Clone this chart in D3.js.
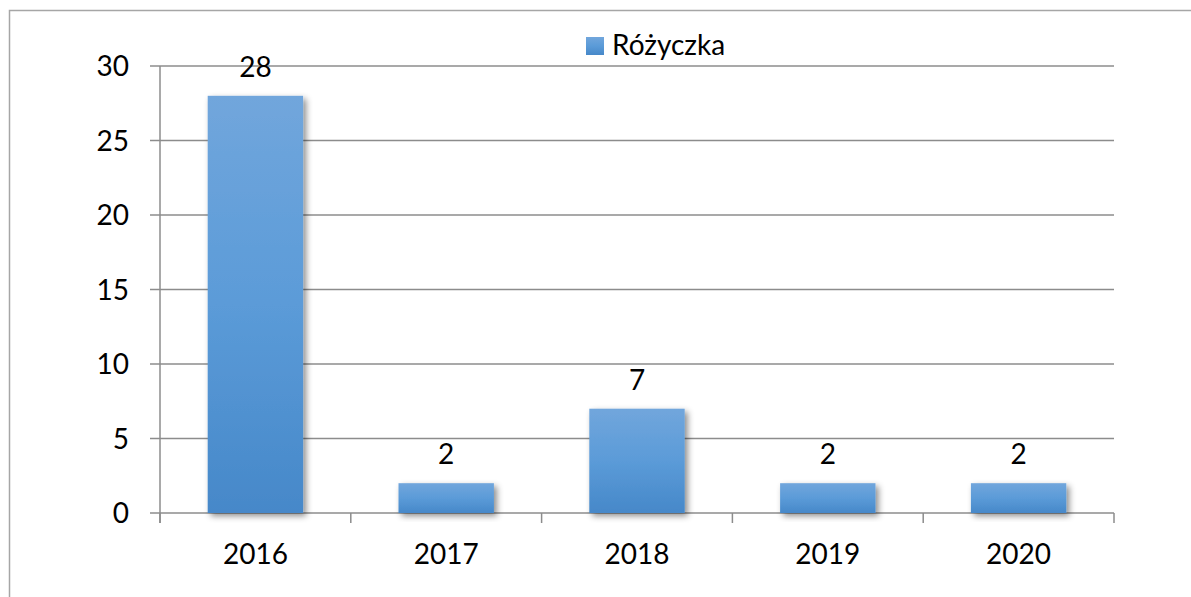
<!DOCTYPE html>
<html>
<head>
<meta charset="utf-8">
<script src="https://cdn.jsdelivr.net/npm/d3@7"></script>
<style>
  body { margin: 0; background: #fff; }
  text { font-family: Lato, "Open Sans", sans-serif; fill: #000; }
</style>
</head>
<body>
<div id="chart"></div>
<script>
// data
const years = ["2016", "2017", "2018", "2019", "2020"];
const values = [28, 2, 7, 2, 2];
const seriesName = "Różyczka";
const yTicks = [0, 5, 10, 15, 20, 25, 30];

const width = 1191, height = 597;
const plot = { left: 160, right: 1114, top: 66, bottom: 513 };
const fontSize = 28;

const svg = d3.select("#chart").append("svg")
    .attr("width", width)
    .attr("height", height);

const defs = svg.append("defs");
const grad = defs.append("linearGradient")
    .attr("id", "barGrad")
    .attr("x1", 0).attr("y1", 0).attr("x2", 0).attr("y2", 1);
grad.append("stop").attr("offset", "0%").attr("stop-color", "#71a6dc");
grad.append("stop").attr("offset", "50%").attr("stop-color", "#5b9bd8");
grad.append("stop").attr("offset", "100%").attr("stop-color", "#4688c9");

const shadow = defs.append("filter")
    .attr("id", "shadow")
    .attr("x", "-20%").attr("y", "-20%")
    .attr("width", "150%").attr("height", "150%");
shadow.append("feDropShadow")
    .attr("dx", 3).attr("dy", 3)
    .attr("stdDeviation", 3)
    .attr("flood-color", "#000")
    .attr("flood-opacity", 0.45);

// outer frame (top and left edges visible)
svg.append("path")
    .attr("d", `M9.5,${height} L9.5,10.5 L${width},10.5`)
    .attr("fill", "none")
    .attr("stroke", "#a6a6a6")
    .attr("stroke-width", 1.5);

const x = d3.scaleBand()
    .domain(years)
    .range([plot.left, plot.right])
    .paddingInner(0.5)
    .paddingOuter(0.25);

const y = d3.scaleLinear()
    .domain([0, 30])
    .range([plot.bottom, plot.top]);

// gridlines
svg.append("g")
    .selectAll("line")
    .data(yTicks)
    .enter().append("line")
    .attr("x1", plot.left - 10)
    .attr("x2", plot.right)
    .attr("y1", d => y(d))
    .attr("y2", d => y(d))
    .attr("stroke", "#8c8c8c")
    .attr("stroke-width", 1.5);

// y axis line
svg.append("line")
    .attr("x1", plot.left).attr("x2", plot.left)
    .attr("y1", plot.top).attr("y2", plot.bottom + 10)
    .attr("stroke", "#8c8c8c")
    .attr("stroke-width", 1.5);

// x category ticks
const step = x.step();
const tickXs = d3.range(years.length + 1).map(i => plot.left + i * (plot.right - plot.left) / years.length);
svg.append("g")
    .selectAll("line")
    .data(tickXs)
    .enter().append("line")
    .attr("x1", d => d).attr("x2", d => d)
    .attr("y1", plot.bottom).attr("y2", plot.bottom + 10)
    .attr("stroke", "#8c8c8c")
    .attr("stroke-width", 1.5);

// y labels
svg.append("g")
    .selectAll("text")
    .data(yTicks)
    .enter().append("text")
    .attr("x", 129)
    .attr("y", d => y(d) + 10)
    .attr("text-anchor", "end")
    .attr("font-size", fontSize)
    .text(d => d);

// bars
svg.append("g")
    .selectAll("rect")
    .data(values)
    .enter().append("rect")
    .attr("x", (d, i) => x(years[i]))
    .attr("y", d => y(d))
    .attr("width", x.bandwidth())
    .attr("height", d => plot.bottom - y(d))
    .attr("fill", "url(#barGrad)")
    .attr("filter", "url(#shadow)");

// value labels
svg.append("g")
    .selectAll("text")
    .data(values)
    .enter().append("text")
    .attr("x", (d, i) => x(years[i]) + x.bandwidth() / 2)
    .attr("y", d => y(d) - 19)
    .attr("text-anchor", "middle")
    .attr("font-size", fontSize)
    .text(d => d);

// x labels
svg.append("g")
    .selectAll("text")
    .data(years)
    .enter().append("text")
    .attr("x", d => x(d) + x.bandwidth() / 2)
    .attr("y", 564)
    .attr("text-anchor", "middle")
    .attr("font-size", fontSize)
    .text(d => d);

// legend
const legend = svg.append("g");
legend.append("rect")
    .attr("x", 586).attr("y", 37)
    .attr("width", 18).attr("height", 18)
    .attr("fill", "url(#barGrad)");
legend.append("text")
    .attr("x", 612).attr("y", 55)
    .attr("font-size", fontSize)
    .text(seriesName);
</script>
</body>
</html>
